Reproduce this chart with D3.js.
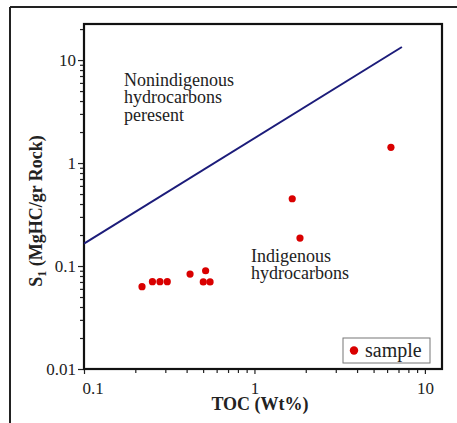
<!DOCTYPE html>
<html><head><meta charset="utf-8">
<script src="https://cdn.jsdelivr.net/npm/d3@7"></script>
<style>
html,body{margin:0;padding:0;background:#fff;}
svg{display:block;font-family:"Liberation Serif","Times New Roman",serif;}
</style></head>
<body>
<svg id="c" width="457" height="423"></svg>
<script>
// data
const toc = [0.219, 0.252, 0.279, 0.308, 0.419, 0.517, 0.501, 0.549, 1.666, 1.85, 6.32];
const s1  = [0.063, 0.0705, 0.0705, 0.0705, 0.0836, 0.090, 0.070, 0.070, 0.45, 0.187, 1.42];
const boundaryToc = [0.1, 7.33];
const boundaryS1 = [0.165, 13.4];
const xMajor = [0.1, 1, 10];
const yMajor = [0.01, 0.1, 1, 10];
const xMinor = [0.2,0.3,0.4,0.5,0.6,0.7,0.8,0.9,2,3,4,5,6,7,8,9];
const yMinor = [0.02,0.03,0.04,0.05,0.06,0.07,0.08,0.09,0.2,0.3,0.4,0.5,0.6,0.7,0.8,0.9,2,3,4,5,6,7,8,9,20];
const legendLabel = "sample";

const svg = d3.select("#c");
const L = 84, T = 24, R = 442, B = 369;
const x = d3.scaleLog().domain([0.1, 12.6]).range([L, R]);
const y = d3.scaleLog().domain([0.01, 22.4]).range([B, T]);

// outer frame lines
svg.append("line").attr("x1",10).attr("y1",7).attr("x2",10).attr("y2",423).attr("stroke","#222").attr("stroke-width",2);
svg.append("line").attr("x1",10).attr("y1",7).attr("x2",457).attr("y2",7).attr("stroke","#222").attr("stroke-width",2);

// axes ticks
const gx = svg.append("g").attr("transform",`translate(0,${B})`);
gx.call(d3.axisBottom(x).tickValues(xMinor).tickSize(4).tickFormat(""));
gx.append("g").call(d3.axisBottom(x).tickValues(xMajor).tickSize(5).tickPadding(8).tickFormat(d=>String(d)));
const gy = svg.append("g").attr("transform",`translate(${L},0)`);
gy.call(d3.axisLeft(y).tickValues(yMinor).tickSize(4).tickFormat(""));
gy.append("g").call(d3.axisLeft(y).tickValues(yMajor).tickSize(6).tickPadding(2).tickFormat(d=>String(d)));
svg.selectAll(".domain").remove();
svg.selectAll(".tick line").attr("stroke","#222").attr("stroke-width",1.2);
svg.selectAll(".tick text").attr("font-family","Liberation Serif, serif").attr("font-size",17).attr("fill","#222");
gx.selectAll(".tick text").filter(d=>d===0.1).attr("text-anchor","start").attr("dx",-2);

// plot frame
svg.append("rect").attr("x",L).attr("y",T).attr("width",R-L).attr("height",B-T)
  .attr("fill","none").attr("stroke","#111").attr("stroke-width",2.2);

// boundary line
svg.append("line")
  .attr("x1",x(boundaryToc[0])).attr("y1",y(boundaryS1[0]))
  .attr("x2",x(boundaryToc[1])).attr("y2",y(boundaryS1[1]))
  .attr("stroke","#1c1c7a").attr("stroke-width",2);

// points
svg.append("g").selectAll("circle").data(toc).join("circle")
  .attr("cx",(d)=>x(d)).attr("cy",(d,i)=>y(s1[i])).attr("r",3.6).attr("fill","#d90000");

// annotations
const t1 = svg.append("text").attr("font-size",18).attr("fill","#222");
["Nonindigenous","hydrocarbons","peresent"].forEach((s,i)=>t1.append("tspan").attr("x",124).attr("y",86+i*17.4).text(s));
const t2 = svg.append("text").attr("font-size",18).attr("fill","#222");
["Indigenous","hydrocarbons"].forEach((s,i)=>t2.append("tspan").attr("x",251).attr("y",262+i*17).text(s));

// axis titles
svg.append("text").attr("x",(L+R)/2 - 3).attr("y",410).attr("text-anchor","middle")
  .attr("font-weight","bold").attr("font-size",18).attr("fill","#222").text("TOC (Wt%)");
const yt = svg.append("text").attr("transform","translate(42,211) rotate(-90)").attr("text-anchor","middle")
  .attr("font-weight","bold").attr("font-size",18).attr("fill","#222");
yt.append("tspan").text("S");
yt.append("tspan").attr("font-size",12).attr("dy",4).text("1");
yt.append("tspan").attr("dy",-4).text(" (MgHC/gr Rock)");

// legend
svg.append("rect").attr("x",343).attr("y",338).attr("width",87).attr("height",25)
  .attr("fill","#fff").attr("stroke","#777").attr("stroke-width",1);
svg.append("circle").attr("cx",354).attr("cy",350.5).attr("r",4.2).attr("fill","#d90000");
svg.append("text").attr("x",365).attr("y",357).attr("font-size",20).attr("fill","#222").text(legendLabel);
</script>
</body></html>
